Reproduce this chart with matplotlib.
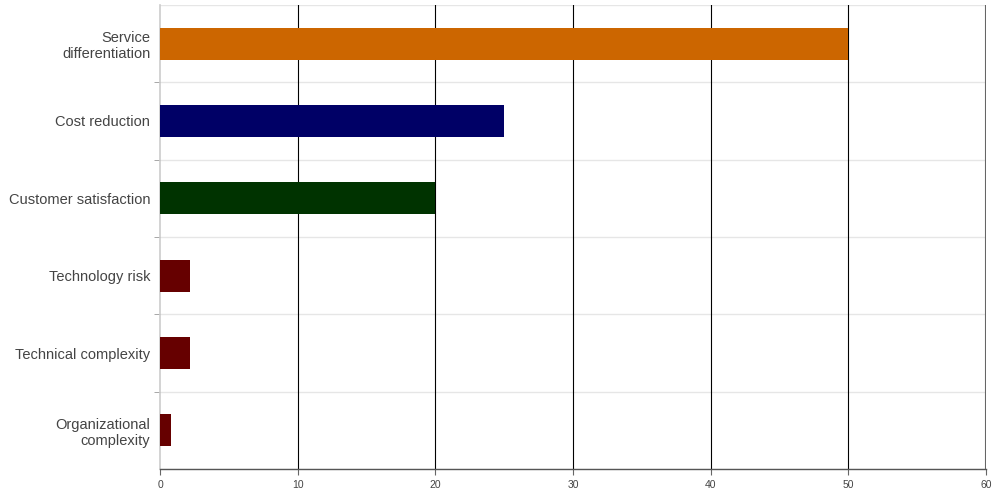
import matplotlib
matplotlib.use("Agg")
import matplotlib.pyplot as plt
import numpy as np

categories = ["Service\ndifferentiation", "Cost reduction", "Customer satisfaction",
              "Technology risk", "Technical complexity", "Organizational\ncomplexity"]
values = [50, 25, 20, 2.2, 2.2, 0.8]
colors = ["#cc6600", "#000066", "#003300", "#660000", "#660000", "#660000"]
x_ticks = [0, 10, 20, 30, 40, 50, 60]

plt.rcParams["font.family"] = ["Liberation Sans", "DejaVu Sans"]

fig = plt.figure(figsize=(10.02, 4.99), dpi=100)
ax = fig.add_axes([160 / 1002, 1 - 469 / 499, 826 / 1002, 464 / 499])

y = np.arange(len(categories))
ax.barh(y, values, height=0.41, color=colors, zorder=3)

ax.set_xlim(0, 60)
ax.set_ylim(len(categories) - 0.5, -0.5)

# horizontal separators between categories
for b in np.arange(-0.5, len(categories), 1.0):
    ax.axhline(b, color="#e6e6e6", lw=1, zorder=1)

# vertical grid lines
ax.set_xticks(x_ticks)
ax.set_xticklabels([str(t) for t in x_ticks], fontsize=7.5, color="#444444")
for t in x_ticks[1:-1]:
    ax.axvline(t, color="#000000", lw=0.8, zorder=2)
ax.axvline(x_ticks[-1], color="#666666", lw=1.5, zorder=2)

ax.set_yticks(y)
ax.set_yticklabels(categories, fontsize=10.5, color="#444444", ha="right")
ax.tick_params(axis="y", length=0, pad=7)
ax.set_yticks(np.arange(0.5, len(categories) - 1, 1.0), minor=True)
ax.tick_params(axis="y", which="minor", length=4, color="#999999")
ax.tick_params(axis="x", length=4, color="#666666", pad=4)

for s in ["top", "right"]:
    ax.spines[s].set_visible(False)
ax.spines["left"].set_color("#cccccc")
ax.spines["left"].set_linewidth(1.2)
ax.spines["bottom"].set_color("#555555")
ax.spines["bottom"].set_linewidth(1)

fig.savefig("out.png", dpi=100)
